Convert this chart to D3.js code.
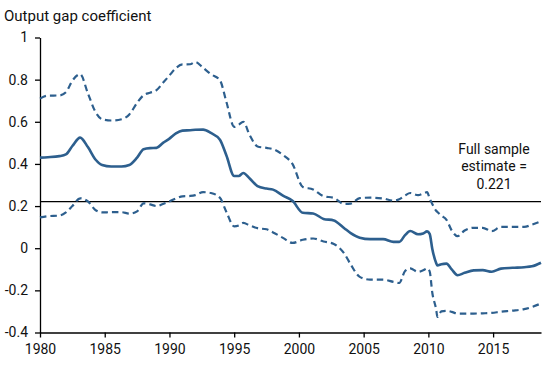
<!DOCTYPE html>
<html>
<head>
<meta charset="utf-8">
<script src="https://cdn.jsdelivr.net/npm/d3@7"></script>
<style>
  body { margin: 0; background: #fff; }
  text { font-family: Roboto, "Noto Sans", sans-serif; fill: #111; }
</style>
</head>
<body>
<script>
// values (decimal years)
const years = [1980.0, 1980.6, 1981.5, 1982.0, 1982.5, 1983.1, 1983.7, 1984.3, 1984.8, 1985.5,
  1986.3, 1986.9, 1987.5, 1988.0, 1988.5, 1989.0, 1989.5, 1990.0, 1990.5, 1991.0,
  1991.6, 1992.0, 1992.6, 1993.2, 1993.9, 1994.4, 1995.0, 1995.35, 1995.7, 1996.2,
  1996.8, 1997.5, 1998.0, 1998.8, 1999.5, 2000.3, 2001.1, 2001.9, 2002.7, 2003.5,
  2004.0, 2004.7, 2005.5, 2006.5, 2007.3, 2007.75, 2008.2, 2008.6, 2009.2, 2009.6,
  2009.9, 2010.1, 2010.3, 2010.6, 2010.7, 2011.0, 2011.4, 2011.8, 2012.25, 2012.8,
  2013.5, 2014.2, 2014.9, 2015.6, 2016.5, 2017.4, 2018.0, 2018.7];

const estimate = [0.430, 0.432, 0.437, 0.445, 0.485, 0.525, 0.480, 0.420, 0.395, 0.388,
  0.388, 0.395, 0.430, 0.470, 0.475, 0.476, 0.500, 0.520, 0.545, 0.558,
  0.560, 0.562, 0.563, 0.547, 0.515, 0.440, 0.343, 0.343, 0.357, 0.331,
  0.295, 0.283, 0.278, 0.248, 0.225, 0.168, 0.165, 0.139, 0.132, 0.095,
  0.072, 0.050, 0.043, 0.043, 0.030, 0.030, 0.062, 0.082, 0.066, 0.070,
  0.080, 0.068, -0.002, -0.070, -0.082, -0.076, -0.073, -0.100, -0.128, -0.117,
  -0.105, -0.104, -0.112, -0.097, -0.093, -0.090, -0.086, -0.069];

const upper = [0.710, 0.724, 0.725, 0.740, 0.795, 0.826, 0.735, 0.645, 0.612, 0.606,
  0.612, 0.635, 0.690, 0.726, 0.738, 0.750, 0.785, 0.820, 0.855, 0.872,
  0.873, 0.884, 0.856, 0.826, 0.797, 0.694, 0.576, 0.586, 0.600, 0.536,
  0.483, 0.476, 0.470, 0.441, 0.400, 0.291, 0.279, 0.247, 0.239, 0.210,
  0.212, 0.238, 0.240, 0.236, 0.226, 0.232, 0.250, 0.262, 0.252, 0.260,
  0.266, 0.236, 0.210, 0.178, 0.172, 0.155, 0.135, 0.085, 0.057, 0.084,
  0.097, 0.097, 0.081, 0.101, 0.101, 0.101, 0.112, 0.128];

const lower = [0.146, 0.152, 0.155, 0.170, 0.200, 0.237, 0.222, 0.180, 0.170, 0.171,
  0.171, 0.164, 0.175, 0.213, 0.208, 0.200, 0.210, 0.222, 0.236, 0.246,
  0.248, 0.252, 0.266, 0.262, 0.239, 0.172, 0.104, 0.108, 0.120, 0.108,
  0.095, 0.090, 0.075, 0.048, 0.025, 0.040, 0.046, 0.032, 0.020, -0.025,
  -0.077, -0.136, -0.149, -0.149, -0.160, -0.165, -0.108, -0.096, -0.112, -0.105,
  -0.096, -0.110, -0.210, -0.290, -0.326, -0.300, -0.297, -0.302, -0.310, -0.310,
  -0.310, -0.309, -0.307, -0.301, -0.296, -0.289, -0.279, -0.262];

const fullSample = 0.221;
const xTicks = [1980, 1985, 1990, 1995, 2000, 2005, 2010, 2015];
const yTicks = [-0.4, -0.2, 0, 0.2, 0.4, 0.6, 0.8, 1];

const width = 550, height = 365;
const margin = {top: 37.5, right: 9, bottom: 32.5, left: 40};
const blue = "#2d5f8e";

const svg = d3.select("body").append("svg")
  .attr("width", width)
  .attr("height", height);

const x = d3.scaleLinear()
  .domain([1980, 2018.7])
  .range([margin.left, width - margin.right]);

const y = d3.scaleLinear()
  .domain([-0.4, 1])
  .range([height - margin.bottom, margin.top]);

// axes
const fmt = d => d === 0 ? "0" : (d === 1 ? "1" : d3.format(".1f")(d).replace("−", "-"));

svg.append("g")
  .attr("transform", `translate(${margin.left},0)`)
  .call(d3.axisLeft(y).tickValues(yTicks).tickFormat(fmt).tickSize(5).tickSizeOuter(0).tickPadding(7))
  .call(g => g.selectAll("text").attr("font-size", 14).attr("font-family", null))
  .call(g => g.selectAll("path, line").attr("stroke", "#000").attr("stroke-width", 1.3));

svg.append("g")
  .attr("transform", `translate(0,${height - margin.bottom})`)
  .call(d3.axisBottom(x).tickValues(xTicks).tickFormat(d3.format("d")).tickSize(5).tickSizeOuter(0).tickPadding(7))
  .call(g => g.selectAll("text").attr("font-size", 14).attr("font-family", null))
  .call(g => g.selectAll("path, line").attr("stroke", "#000").attr("stroke-width", 1.3));

// full sample reference line
svg.append("line")
  .attr("x1", x(1980)).attr("x2", x(2018.7))
  .attr("y1", y(fullSample)).attr("y2", y(fullSample))
  .attr("stroke", "#000")
  .attr("stroke-width", 1.3);

const line = vals => d3.line()
  .x((d, i) => x(years[i]))
  .y(d => y(d))
  .curve(d3.curveMonotoneX)(vals);

svg.append("path")
  .attr("d", line(upper))
  .attr("fill", "none").attr("stroke", blue)
  .attr("stroke-width", 2.2).attr("stroke-dasharray", "6.5,4");

svg.append("path")
  .attr("d", line(lower))
  .attr("fill", "none").attr("stroke", blue)
  .attr("stroke-width", 2.2).attr("stroke-dasharray", "6.5,4");

svg.append("path")
  .attr("d", line(estimate))
  .attr("fill", "none").attr("stroke", blue)
  .attr("stroke-width", 2.6);

// titles
svg.append("text")
  .attr("x", 4).attr("y", 20.5)
  .attr("font-size", 15)
  .text("Output gap coefficient");

const note = svg.append("text")
  .attr("text-anchor", "middle")
  .attr("font-size", 14);
["Full sample", "estimate =", "0.221"].forEach((t, i) => {
  note.append("tspan")
    .attr("x", 494)
    .attr("y", 154 + i * 17.3)
    .text(t);
});
</script>
</body>
</html>
